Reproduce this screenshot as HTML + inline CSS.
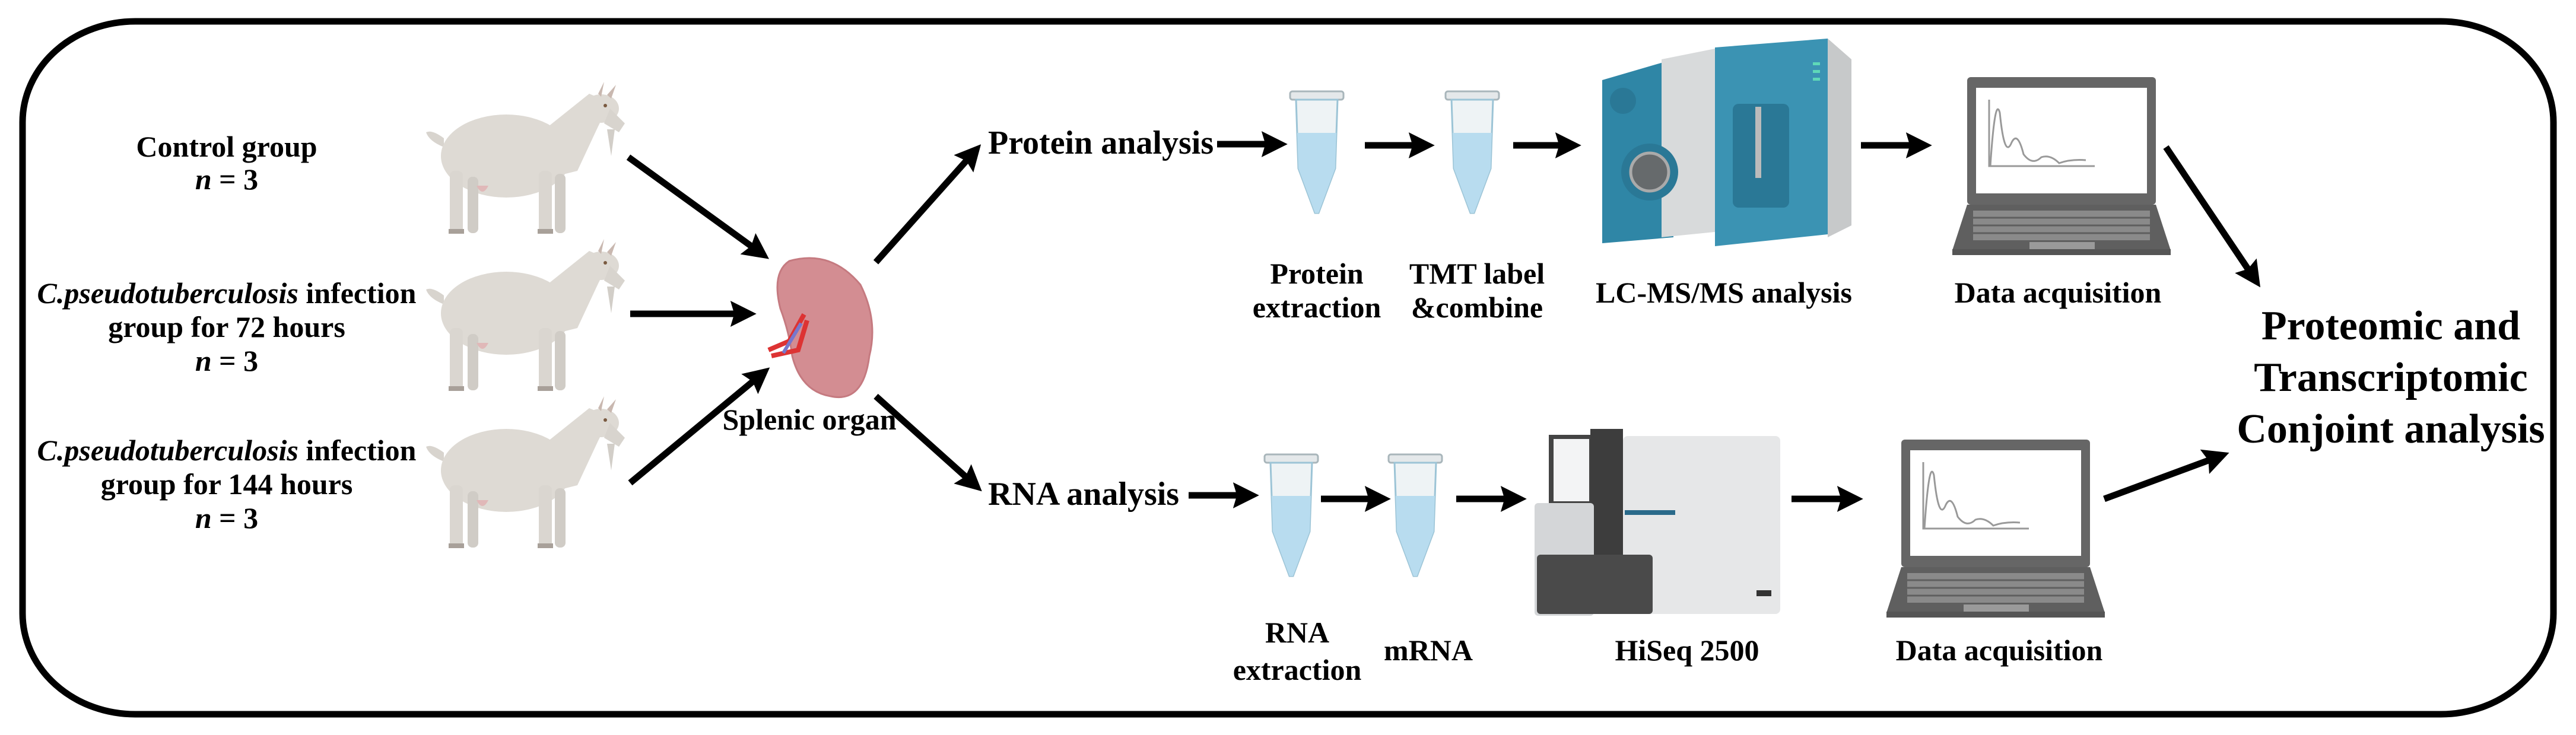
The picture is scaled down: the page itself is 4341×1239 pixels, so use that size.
<!DOCTYPE html>
<html><head><meta charset="utf-8"><style>
html,body{margin:0;padding:0;background:#fff;}
svg{display:block;}
text{font-family:"Liberation Serif",serif;font-weight:bold;fill:#000;}
</style></head><body>
<svg width="4341" height="1239" viewBox="0 0 4341 1239" xmlns="http://www.w3.org/2000/svg">
<defs>
<marker id="ah" markerWidth="4" markerHeight="4" refX="2.2" refY="2" orient="auto" markerUnits="strokeWidth">
<path d="M0,0 L4,2 L0,4 L0.6,2 z" fill="#000"/>
</marker>
<g id="goat">
<path d="M40,95 Q20,80 10,85 Q15,100 40,110 Z" fill="#d8d4ce"/>
<ellipse cx="145" cy="125" rx="110" ry="70" fill="#dedad4"/>
<path d="M210,80 L285,20 L320,35 L300,75 L265,150 L205,165 Z" fill="#dedad4"/>
<ellipse cx="305" cy="45" rx="30" ry="24" fill="#dedad4"/>
<path d="M320,45 L345,70 L335,85 L310,70 Z" fill="#d8d4ce"/>
<path d="M300,20 L310,0 L305,25 Z M315,22 L330,5 L322,28 Z" fill="#c9b8b0"/>
<path d="M315,80 L322,125 L328,80 Z" fill="#d2cec8"/>
<circle cx="312" cy="40" r="3" fill="#7a5a40"/>
<rect x="50" y="150" width="22" height="105" rx="8" fill="#dad6d0"/>
<rect x="80" y="160" width="18" height="95" rx="8" fill="#d0ccc6"/>
<rect x="200" y="150" width="22" height="105" rx="8" fill="#dad6d0"/>
<rect x="227" y="155" width="18" height="100" rx="8" fill="#d0ccc6"/>
<path d="M95,175 Q105,195 115,175 Z" fill="#e0b8b8"/>
<rect x="48" y="248" width="26" height="8" fill="#a8a099"/>
<rect x="198" y="248" width="26" height="8" fill="#a8a099"/>
</g>
<g id="tube">
<rect x="0" y="0" width="90" height="14" rx="4" fill="#e4e8ea" stroke="#a9b6bb" stroke-width="3"/>
<path d="M10,14 L80,14 L76,130 L48,205 L42,205 L14,130 Z" fill="#eef3f5" stroke="#9cc4d6" stroke-width="3"/>
<path d="M12,70 L78,70 L76,130 L48,205 L42,205 L14,130 Z" fill="#b8dcef"/>
</g>
<g id="laptop">
<rect x="25" y="0" width="318" height="215" rx="6" fill="#666"/>
<rect x="40" y="18" width="288" height="178" fill="#fff"/>
<path d="M62,38 L62,150 L240,150 M64,150 Q72,30 80,60 Q88,140 100,110 Q110,90 120,130 Q135,150 150,135 Q165,130 180,145 Q200,138 225,140" fill="none" stroke="#999" stroke-width="3"/>
<path d="M0,292 L25,215 L343,215 L368,292 Z" fill="#5f5f5f"/>
<rect x="35" y="225" width="298" height="50" fill="#8a8a8a"/>
<g stroke="#5f5f5f" stroke-width="3">
<line x1="35" y1="237" x2="333" y2="237"/><line x1="35" y1="250" x2="333" y2="250"/><line x1="35" y1="263" x2="333" y2="263"/>
</g>
<rect x="130" y="278" width="110" height="12" fill="#9a9a9a"/>
<rect x="0" y="290" width="368" height="10" fill="#555"/>
</g>
</defs>

<rect x="38" y="36" width="4265" height="1168" rx="190" ry="170" fill="none" stroke="#000" stroke-width="11"/>

<g font-size="50" text-anchor="middle" font-family="Liberation Serif, serif" font-weight="bold">
<text x="382" y="264" font-family="Liberation Serif, serif">Control group</text>
<text x="382" y="319" font-family="Liberation Serif, serif"><tspan font-style="italic">n</tspan> = 3</text>
<text x="382" y="511" font-family="Liberation Serif, serif"><tspan font-style="italic">C.pseudotuberculosis</tspan> infection</text>
<text x="382" y="568" font-family="Liberation Serif, serif">group for 72 hours</text>
<text x="382" y="625" font-family="Liberation Serif, serif"><tspan font-style="italic">n</tspan> = 3</text>
<text x="382" y="776" font-family="Liberation Serif, serif"><tspan font-style="italic">C.pseudotuberculosis</tspan> infection</text>
<text x="382" y="833" font-family="Liberation Serif, serif">group for 144 hours</text>
<text x="382" y="890" font-family="Liberation Serif, serif"><tspan font-style="italic">n</tspan> = 3</text>
</g>

<use href="#goat" transform="translate(708,138)"/>
<use href="#goat" transform="translate(708,403)"/>
<use href="#goat" transform="translate(708,668)"/>

<g stroke="#000" stroke-width="11" fill="none" marker-end="url(#ah)">
<line x1="1059" y1="265" x2="1280" y2="425"/>
<line x1="1062" y1="529" x2="1255" y2="529"/>
<line x1="1062" y1="814" x2="1282" y2="632"/>
<line x1="1476" y1="442" x2="1640" y2="258"/>
<line x1="1476" y1="668" x2="1640" y2="815"/>
<line x1="2051" y1="243" x2="2150" y2="243"/>
<line x1="2003" y1="835" x2="2102" y2="835"/>
<line x1="2300" y1="245" x2="2398" y2="245"/>
<line x1="2550" y1="245" x2="2645" y2="245"/>
<line x1="3136" y1="245" x2="3236" y2="245"/>
<line x1="3650" y1="248" x2="3798" y2="468"/>
<line x1="2226" y1="841" x2="2324" y2="841"/>
<line x1="2454" y1="841" x2="2553" y2="841"/>
<line x1="3019" y1="841" x2="3120" y2="841"/>
<line x1="3546" y1="841" x2="3738" y2="770"/>
</g>

<path d="M1330,440 Q1400,420 1450,480 Q1480,540 1465,600 Q1455,680 1400,668 Q1350,660 1335,600 Q1330,560 1315,520 Q1300,460 1330,440 Z" fill="#d38d92" stroke="#c57a80" stroke-width="3"/>
<path d="M1355,530 L1330,575 L1295,590 M1360,540 L1345,590 L1300,600" stroke="#d33" stroke-width="8" fill="none"/>
<path d="M1350,545 L1320,595" stroke="#77c" stroke-width="6" fill="none"/>

<g font-size="50" text-anchor="middle" font-family="Liberation Serif, serif" font-weight="bold">
<text x="1364" y="724">Splenic organ</text>
</g>
<g font-size="56" text-anchor="start" font-family="Liberation Serif, serif" font-weight="bold">
<text x="1665" y="259">Protein analysis</text>
<text x="1665" y="851">RNA analysis</text>
</g>

<use href="#tube" transform="translate(2174,154)"/>
<use href="#tube" transform="translate(2436,154)"/>
<use href="#tube" transform="translate(2131,766)"/>
<use href="#tube" transform="translate(2340,766)"/>

<g>
<path d="M2700,135 L2820,100 L2820,400 L2700,410 Z" fill="#2f86a6"/>
<path d="M2800,100 L2900,80 L2900,390 L2800,400 Z" fill="#d8dadb"/>
<path d="M2890,80 L3080,65 L3080,395 L2890,415 Z" fill="#3b93b3"/>
<path d="M3080,65 L3120,100 L3120,380 L3080,400 Z" fill="#c7c9ca"/>
<circle cx="2780" cy="290" r="48" fill="#2a7896"/>
<circle cx="2780" cy="290" r="32" fill="#666a6c" stroke="#aaa" stroke-width="5"/>
<circle cx="2735" cy="170" r="22" fill="#2a7896"/>
<rect x="2920" y="175" width="95" height="175" rx="10" fill="#2a7896"/>
<rect x="2958" y="180" width="10" height="120" fill="#bbb"/>
<rect x="3055" y="105" width="12" height="5" fill="#5fd8b8"/>
<rect x="3055" y="118" width="12" height="5" fill="#5fd8b8"/>
<rect x="3055" y="131" width="12" height="5" fill="#5fd8b8"/>
</g>

<g>
<rect x="2610" y="733" width="75" height="120" fill="#444"/>
<rect x="2618" y="740" width="60" height="105" fill="#f3f4f5"/>
<rect x="2680" y="723" width="55" height="300" fill="#3d3d3d"/>
<rect x="2735" y="735" width="265" height="300" rx="8" fill="#e6e7e8"/>
<rect x="2738" y="860" width="85" height="8" fill="#2a6a8a"/>
<rect x="2586" y="848" width="100" height="190" rx="6" fill="#d4d6d8"/>
<rect x="2590" y="935" width="195" height="100" rx="6" fill="#4a4a4a"/>
<rect x="2960" y="995" width="25" height="10" fill="#333"/>
</g>

<use href="#laptop" transform="translate(3290,130)"/>
<use href="#laptop" transform="translate(3179,741)"/>

<g font-size="50" text-anchor="middle" font-family="Liberation Serif, serif" font-weight="bold">
<text x="2219" y="478">Protein</text>
<text x="2219" y="535">extraction</text>
<text x="2489" y="478">TMT label</text>
<text x="2489" y="535">&amp;combine</text>
<text x="2905" y="510">LC-MS/MS analysis</text>
<text x="3468" y="510">Data acquisition</text>
<text x="2186" y="1083">RNA</text>
<text x="2186" y="1146">extraction</text>
<text x="2407" y="1113">mRNA</text>
<text x="2843" y="1113">HiSeq 2500</text>
<text x="3369" y="1113">Data acquisition</text>
</g>
<g font-size="70" text-anchor="middle" font-family="Liberation Serif, serif" font-weight="bold">
<text x="4029" y="572">Proteomic and</text>
<text x="4029" y="659">Transcriptomic</text>
<text x="4029" y="746">Conjoint analysis</text>
</g>
</svg>
</body></html>
